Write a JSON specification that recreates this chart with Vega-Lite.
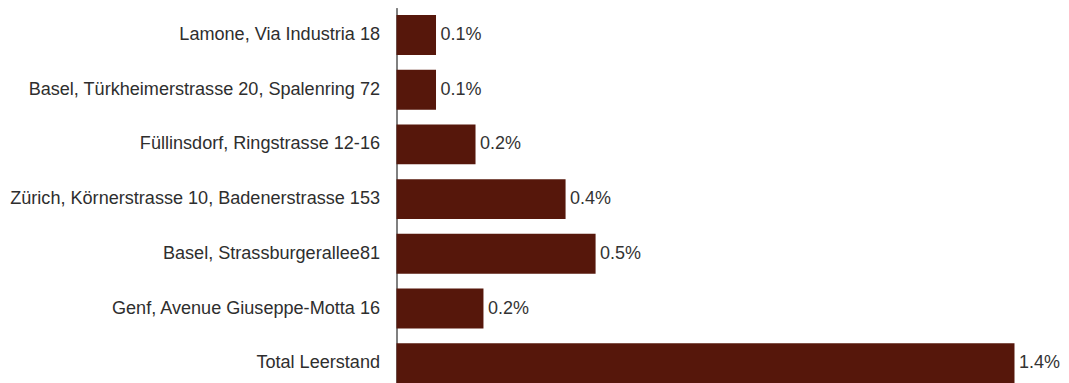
{
  "$schema": "https://vega.github.io/schema/vega-lite/v6.json",
  "autosize": "none",
  "width": 618,
  "height": 383,
  "padding": {"left": 396.5, "top": 7.6, "right": 54.5, "bottom": 0},
  "background": "white",
  "data": {"values": [
    {"site": "Lamone, Via Industria 18", "rate": 0.000895},
    {"site": "Basel, Türkheimerstrasse 20, Spalenring 72", "rate": 0.000895},
    {"site": "Füllinsdorf, Ringstrasse 12-16", "rate": 0.00179},
    {"site": "Zürich, Körnerstrasse 10, Badenerstrasse 153", "rate": 0.00383},
    {"site": "Basel, Strassburgerallee81", "rate": 0.00451},
    {"site": "Genf, Avenue Giuseppe-Motta 16", "rate": 0.00197},
    {"site": "Total Leerstand", "rate": 0.014}
  ]},
  "encoding": {
    "y": {"field": "site", "type": "nominal", "sort": null,
      "scale": {"paddingInner": 0.27, "paddingOuter": 0.135},
      "axis": {"title": null, "ticks": false, "domainColor": "#000000", "domainWidth": 1,
        "labelFont": "Liberation Sans", "labelFontSize": 18.1, "labelColor": "#2e2e2e", "labelPadding": 17, "labelLimit": 500}},
    "x": {"field": "rate", "type": "quantitative", "scale": {"domain": [0, 0.014], "nice": false}, "axis": null}
  },
  "layer": [
    {"mark": {"type": "bar", "color": "#56170b"}},
    {"mark": {"type": "text", "align": "left", "baseline": "middle", "dx": 4.5, "font": "Liberation Sans", "fontSize": 18, "color": "#333333"},
     "encoding": {"text": {"field": "rate", "type": "quantitative", "format": ".1%"}}}
  ],
  "config": {"view": {"stroke": null}}
}
